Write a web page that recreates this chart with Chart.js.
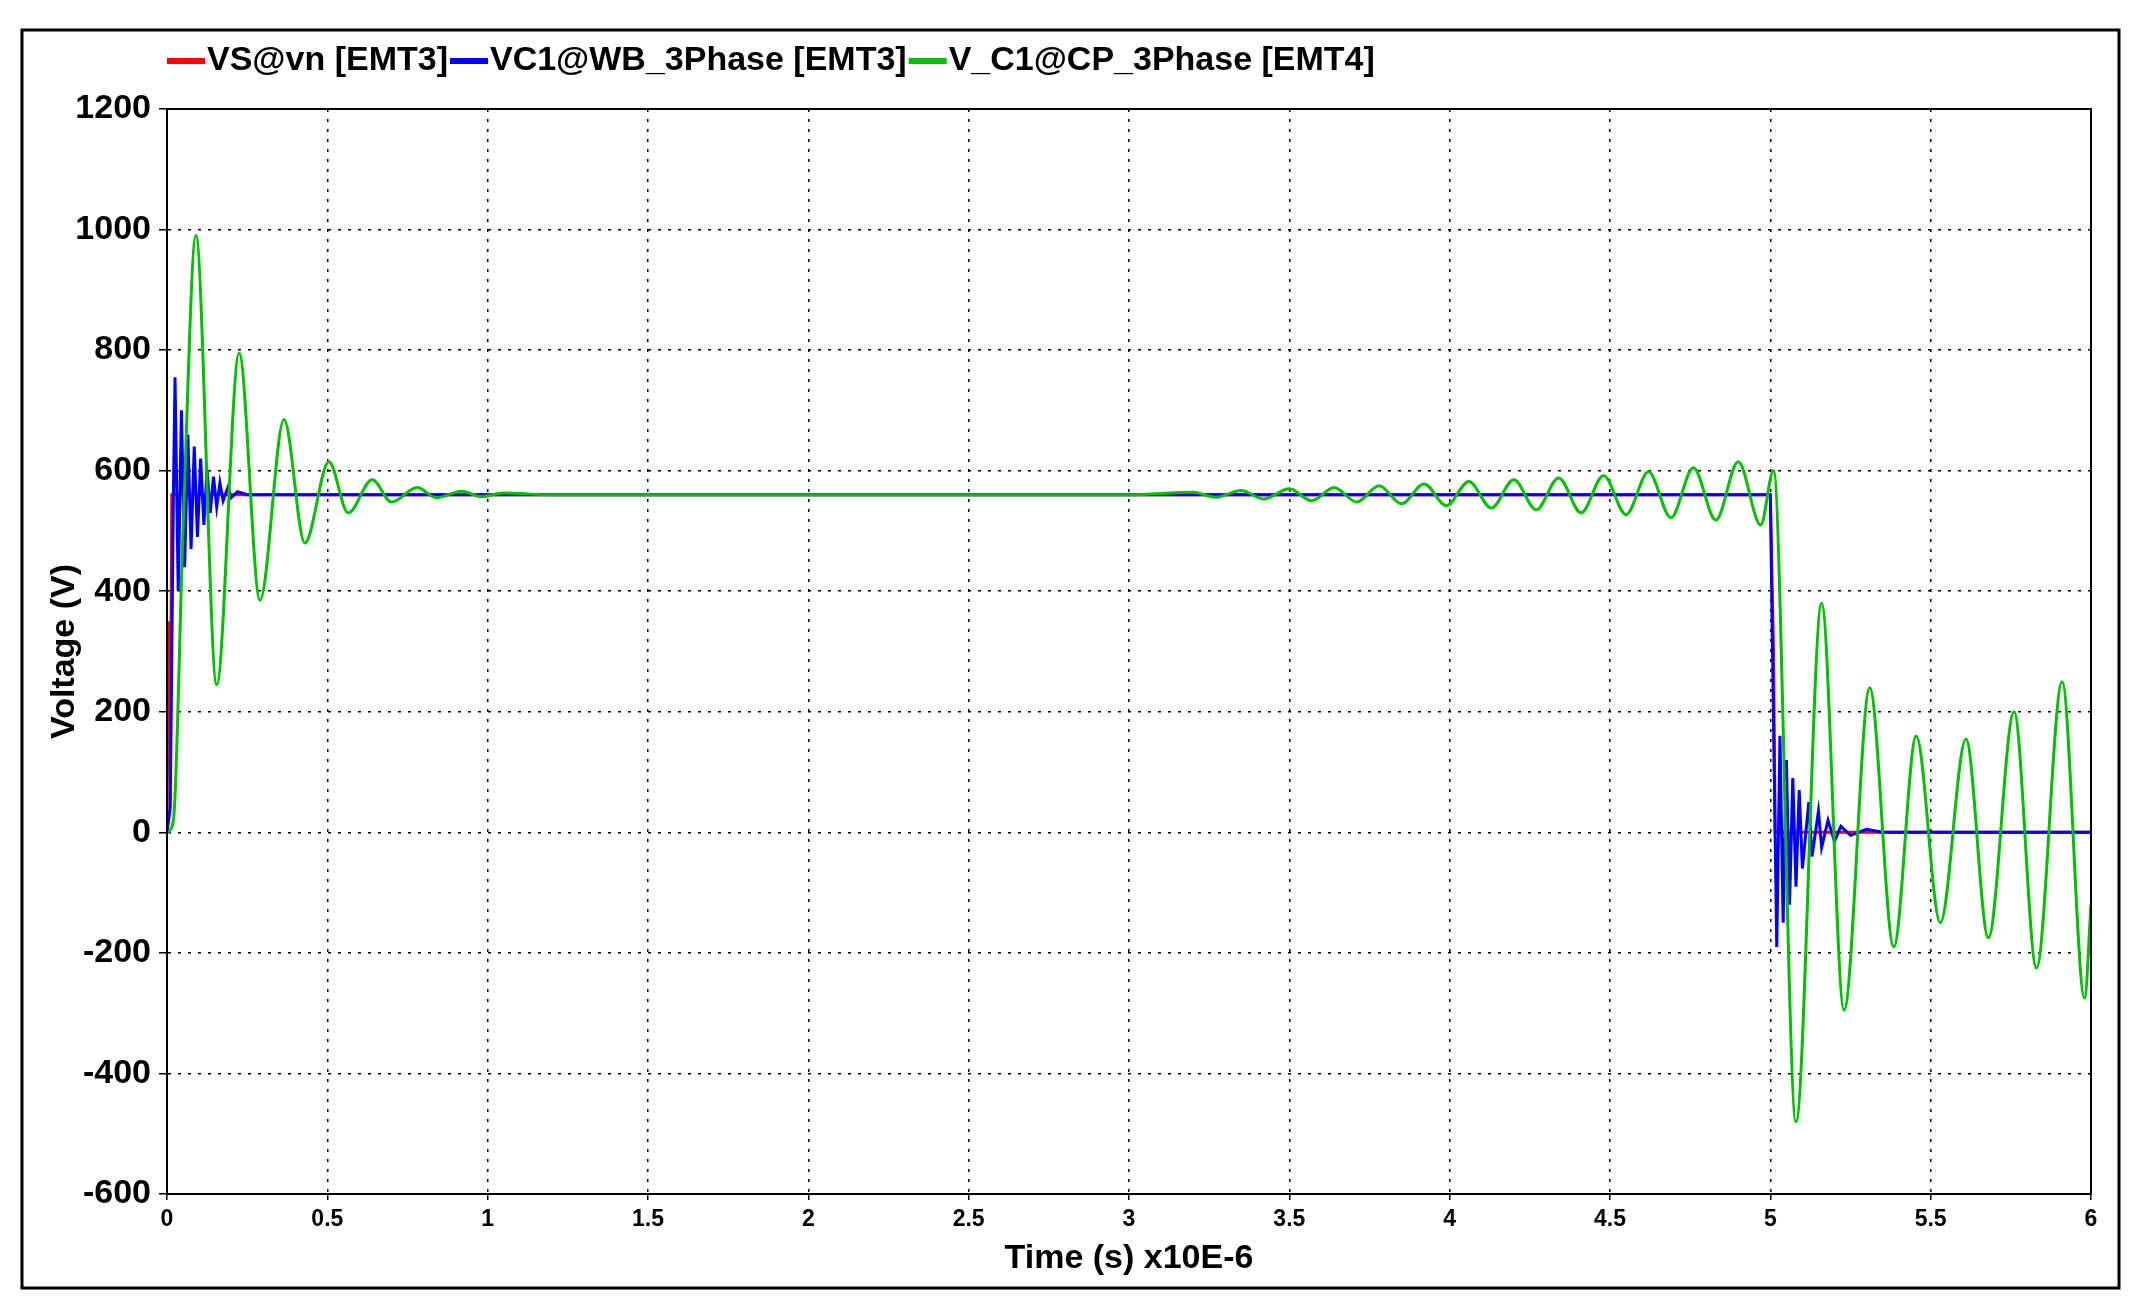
<!DOCTYPE html>
<html><head><meta charset="utf-8">
<script src="https://cdn.jsdelivr.net/npm/chart.js@4/dist/chart.umd.min.js"></script>
<style>html,body{margin:0;padding:0;background:#fff}#wrap{width:2133px;height:1303px}</style>
</head><body><div id="wrap"><canvas id="c" width="2133" height="1303"></canvas></div>
<script>
const xTicks=[0,0.5,1,1.5,2,2.5,3,3.5,4,4.5,5,5.5,6];
const yTicks=[-600,-400,-200,0,200,400,600,800,1000,1200];
const vsT=[0,0.005,0.01,0.015,5.0,5.005,5.01,5.015,6];
const vsV=[0,350,100,560,560,430,300,0,0];
const vcT=[0,0.01,0.02,0.025,0.035,0.045,0.055,0.065,0.075,0.085,0.095,0.105,0.115,0.125,0.135,0.145,0.155,0.165,0.175,0.19,0.2,0.22,0.25,5.0,5.01,5.02,5.03,5.04,5.05,5.06,5.07,5.08,5.09,5.10,5.12,5.13,5.15,5.16,5.18,5.2,5.22,5.25,5.3,5.35,6];
const vcV=[0,40,560,755,400,700,440,660,470,640,490,620,510,600,530,590,540,580,550,572,555,565,560,560,180,-190,160,-150,120,-120,90,-90,70,-60,50,-40,35,-25,20,-15,10,-5,5,0,0];
const cpT=[0,0.02,0.05,0.09,0.155,0.225,0.29,0.365,0.43,0.505,0.565,0.64,0.70,0.78,0.84,0.92,0.98,1.05,1.2,3.0,3.2,3.27,3.35,3.42,3.5,3.57,3.64,3.71,3.78,3.85,3.92,3.99,4.06,4.13,4.2,4.27,4.34,4.41,4.48,4.55,4.62,4.69,4.76,4.83,4.90,4.97,5.01,5.08,5.16,5.23,5.31,5.385,5.455,5.53,5.61,5.68,5.76,5.83,5.91,5.98,6.0];
const cpV=[0,20,500,990,245,795,385,685,480,615,530,585,548,572,555,566,557,563,560,560,564,556,567,553,570,550,572,548,575,545,578,542,582,538,585,535,588,530,592,527,598,522,605,518,615,510,600,-480,380,-295,240,-190,160,-150,155,-175,200,-225,250,-275,-120];
const pts=(t,v)=>t.map((x,i)=>({x,y:v[i]}));
const series=[
 {label:'VS@vn [EMT3]',data:pts(vsT,vsV),borderColor:'#ff0000'},
 {label:'VC1@WB_3Phase [EMT3]',data:pts(vcT,vcV),borderColor:'#0000ff'},
 {label:'V_C1@CP_3Phase [EMT4]',data:pts(cpT,cpV),borderColor:'#00c000',cubicInterpolationMode:'monotone'}
];
series.forEach(s=>{s.borderWidth=3;s.pointRadius=0;s.fill=false;});
series[2].order=0;series[1].order=1;series[0].order=2;
const F='"Liberation Sans", Arial, sans-serif';
const deco={id:'deco',afterDraw(ch){const c=ch.ctx;c.save();
 c.strokeStyle='#000';c.lineWidth=3;c.strokeRect(22,30,2097,1258);
 const a=ch.chartArea;c.lineWidth=2;c.strokeRect(a.left,a.top,a.right-a.left,a.bottom-a.top);
 c.font='bold 34px '+F;c.textBaseline='middle';let x=167;const y=61;
 series.forEach(s=>{c.fillStyle=s.borderColor;c.fillRect(x,y-3,38,6);x+=40;c.fillStyle='#000';c.fillText(s.label,x,y);x+=c.measureText(s.label).width+2;});
 c.restore();}};
new Chart(document.getElementById('c'),{type:'line',data:{datasets:series},
options:{responsive:false,animation:false,layout:{padding:{top:109,right:31+11,left:40,bottom:24}},
plugins:{legend:{display:false},tooltip:{enabled:false}},
scales:{
 x:{type:'linear',min:0,max:6,afterBuildTicks:s=>{s.ticks=xTicks.map(v=>({value:v}));},
  afterFit:s=>{s.height=85;},
  ticks:{color:'#000',font:{family:F,weight:'bold',size:23},maxRotation:0,padding:6,callback:v=>String(v)},
  grid:{color:'#000',lineWidth:1.5,tickLength:6,drawTicks:true},border:{display:true,color:'#000',width:2,dash:[3,7]},
  title:{display:true,text:'Time (s) x10E-6',color:'#000',font:{family:F,weight:'bold',size:34},padding:{top:2,bottom:0}}},
 y:{type:'linear',min:-600,max:1200,afterBuildTicks:s=>{s.ticks=yTicks.map(v=>({value:v}));},
  afterFit:s=>{s.width=127;},
  ticks:{color:'#000',font:{family:F,weight:'bold',size:34},padding:8,callback:v=>String(v)},
  grid:{color:'#000',lineWidth:1.5,tickLength:8},border:{display:true,color:'#000',width:2,dash:[3,7]},
  title:{display:true,text:'Voltage (V)',color:'#000',font:{family:F,weight:'bold',size:34},padding:{bottom:0}}}
}},plugins:[deco]});
</script></body></html>
